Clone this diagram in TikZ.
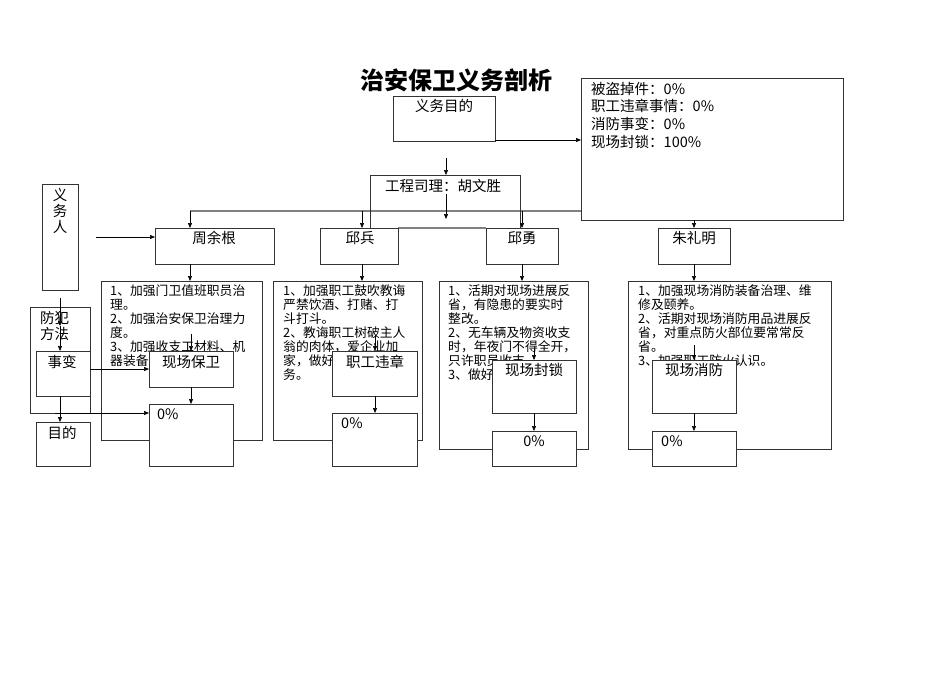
\documentclass[tikz,border=0pt]{standalone}
\usepackage{fontspec}
\setmainfont{Noto Sans CJK SC}
\usetikzlibrary{arrows.meta}
\begin{document}
\begin{tikzpicture}[x=1pt,y=-1pt,
  bx/.style={draw=black!80,line width=0.7pt},
  wb/.style={draw=black!80,line width=0.7pt,fill=white},
  arr/.style={-{Triangle[length=5pt,width=4pt]},line width=0.6pt},
  gl/.style={draw=black!50,line width=1.2pt},
  lab/.style={font=\fontsize{14.5}{15}\selectfont,inner sep=0pt,anchor=north},
  ct/.style={font=\fontsize{12.8}{13.9}\selectfont,inner sep=0pt,anchor=north west,align=left}]
\useasboundingbox (0,0) rectangle (950,672);
\node[inner sep=0pt,font=\fontsize{24}{26}\selectfont\bfseries] (title) at (456,80) {治安保卫义务剖析};
% top
\draw[bx] (393,96) rectangle (495,141); \node[lab] (goal) at (444,99) {义务目的};
\draw[bx] (581,78) rectangle (843,220);
\node[ct,font=\fontsize{14.5}{17.6}\selectfont] (res) at (591,82) {被盗掉件：0\%\\职工违章事情：0\%\\消防事变：0\%\\现场封锁：100\%};
\coordinate (g1) at (495,140); \coordinate (g2) at (581,140);
\draw[arr] (g1) -- (g2);
\coordinate (m0) at (446,158); \coordinate (m1) at (446,175);
\draw[arr] (m0) -- (m1);
\draw[gl] (190,211) -- (581,211);
\draw[gl] (398,228) -- (486,228);
\draw[bx] (370,175) -- (370,228); \draw[bx] (370,175) -- (520,175) -- (520,228);
\node[lab] (mgr) at (443,179) {工程司理：胡文胜};
\coordinate (m2) at (446,194); \coordinate (m3) at (446,219);
\draw[arr] (m2) -- (m3);
\foreach \x in {190,362,522} \draw[arr] (\x,211) -- (\x,228);
\draw[arr] (694,220) -- (694,228);
% persons
\draw[bx] (42,184) rectangle (78,290);
\node[lab,align=center,font=\fontsize{14.5}{16}\selectfont] (yw) at (60,188) {义\\务\\人};
\draw[arr] (96,237) -- (155,237);
\draw[bx] (155,228) rectangle (274,264); \node[lab] (p1) at (214,231) {周余根};
\draw[bx] (320,228) rectangle (398,264); \node[lab] (p2) at (360,231) {邱兵};
\draw[bx] (486,228) rectangle (558,264); \node[lab] (p3) at (522,231) {邱勇};
\draw[bx] (658,228) rectangle (730,264); \node[lab] (p4) at (694,231) {朱礼明};
\foreach \x in {190,362,522,694} \draw[arr] (\x,264) -- (\x,281);
% content boxes
\draw[bx] (101,281) rectangle (262,440);
\node[ct] (c1) at (110,285) {1、加强门卫值班职员治\\理。\\2、加强治安保卫治理力\\度。\\3、加强收支工材料、机\\器装备治理。};
\draw[bx] (273,281) rectangle (422,440);
\node[ct] (c2) at (283,285) {1、加强职工鼓吹教诲\\严禁饮酒、打赌、打\\斗打斗。\\2、教诲职工树破主人\\翁的肉体，爱企业加\\家，做好本职义\\务。};
\draw[bx] (439,281) rectangle (588,449);
\node[ct] (c3) at (448,285) {1、活期对现场进展反\\省，有隐患的要实时\\整改。\\2、无车辆及物资收支\\时，年夜门不得全开，\\只许职员收支。\\3、做好现场封锁义务。};
\draw[bx] (628,281) rectangle (831,449);
\node[ct] (c4) at (638,285) {1、加强现场消防装备治理、维\\修及颐养。\\2、活期对现场消防用品进展反\\省，对重点防火部位要常常反\\省。\\3、加强职工防火认识。};
% overlays
\draw[arr] (191,334) -- (191,351);
\draw[wb] (149,351) rectangle (233,387); \node[lab] (s1) at (191,355) {现场保卫};
\draw[arr] (191,387) -- (191,404);
\draw[wb] (149,404) rectangle (233,466); \node[lab,anchor=north west] (r1) at (157,408) {0\%};
\draw[arr] (375,335) -- (375,351);
\draw[wb] (332,351) rectangle (417,396); \node[lab] (s2) at (375,355) {职工违章};
\draw[arr] (375,396) -- (375,413);
\draw[wb] (332,413) rectangle (417,466); \node[lab,anchor=north west] (r2) at (341,417) {0\%};
\draw[arr] (534,348) -- (534,360);
\draw[wb] (492,360) rectangle (576,413); \node[lab] (s3) at (534,363) {现场封锁};
\draw[arr] (534,413) -- (534,431);
\draw[wb] (492,431) rectangle (576,466); \node[lab] (r3) at (534,435) {0\%};
\draw[arr] (694,345) -- (694,360);
\draw[wb] (652,360) rectangle (736,413); \node[lab] (s4) at (694,363) {现场消防};
\draw[arr] (694,413) -- (694,431);
\draw[wb] (652,431) rectangle (736,466); \node[lab,anchor=north west] (r4) at (661,435) {0\%};
% left column
\draw[bx] (30,307) rectangle (90,413);
\node[ct,font=\fontsize{14.5}{16}\selectfont] (ff) at (40,311) {防犯\\方法};
\draw[wb] (36,351) rectangle (90,396); \node[lab] (sb) at (62,355) {事变};
\draw[bx] (36,422) rectangle (90,466); \node[lab] (md) at (62,426) {目的};
\draw[arr] (60,298) -- (60,326);
\draw[arr] (60,326) -- (60,351);
\draw[arr] (60,396) -- (60,422);
\draw[arr] (90,369) -- (149,369);
\draw[arr] (55,413) -- (149,413);
\end{tikzpicture}
\end{document}
